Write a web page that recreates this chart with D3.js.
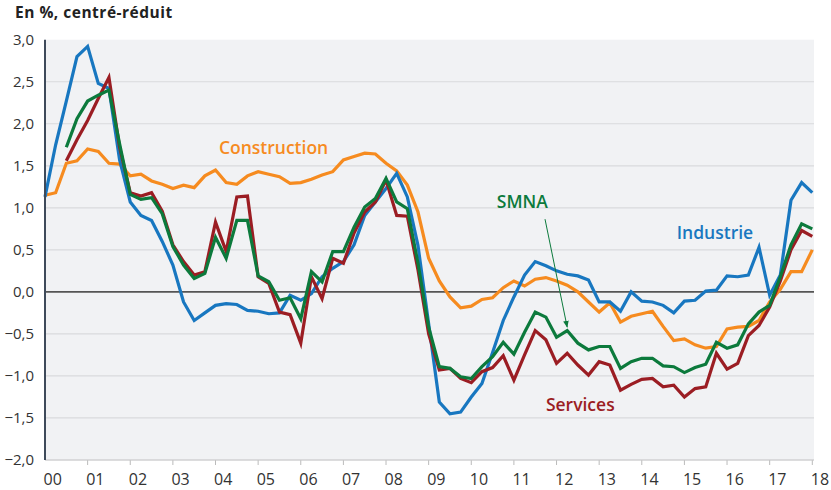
<!DOCTYPE html>
<html>
<head>
<meta charset="utf-8">
<script src="https://cdn.jsdelivr.net/npm/d3@7"></script>
<style>
body { margin:0; background:#fff; }
svg text { font-family: "Open Sans", "DejaVu Sans", sans-serif; }
</style>
</head>
<body>
<div id="chart"></div>
<script>
// size of SVG
var w = 831;
var h = 490;

// quarterly data, 2000Q1 .. 2018Q1 (null = no value)
var startYear = 2000;
var industrie = [1.13,1.75,2.27,2.80,2.92,2.48,2.42,1.57,1.07,0.91,0.85,0.60,0.32,-0.12,-0.34,-0.25,
  -0.16,-0.14,-0.15,-0.22,-0.23,-0.26,-0.25,-0.04,-0.10,-0.02,0.18,0.28,0.36,0.56,0.91,1.07,
  1.23,1.41,1.13,0.55,-0.38,-1.31,-1.45,-1.43,-1.25,-1.09,-0.72,-0.34,-0.06,0.20,0.36,0.31,
  0.25,0.21,0.19,0.14,-0.12,-0.12,-0.23,0.00,-0.11,-0.12,-0.16,-0.25,-0.11,-0.10,0.01,0.02,
  0.19,0.18,0.20,0.53,-0.04,0.20,1.09,1.30,1.18];
var construction = [1.15,1.18,1.53,1.56,1.70,1.67,1.53,1.52,1.38,1.40,1.32,1.28,1.23,1.27,1.24,1.38,
  1.45,1.30,1.28,1.38,1.43,1.40,1.37,1.29,1.30,1.34,1.39,1.43,1.57,1.61,1.65,1.64,
  1.53,1.44,1.27,0.95,0.40,0.13,-0.06,-0.19,-0.17,-0.09,-0.07,0.05,0.13,0.07,0.15,0.17,
  0.13,0.08,0.00,-0.12,-0.24,-0.13,-0.36,-0.29,-0.26,-0.23,-0.41,-0.58,-0.56,-0.63,-0.67,-0.65,
  -0.44,-0.42,-0.41,-0.34,-0.12,0.03,0.24,0.24,0.50];
var services = [null,null,1.56,1.81,2.04,2.30,2.55,1.72,1.18,1.14,1.18,0.96,0.56,0.36,0.20,0.24,
  0.83,0.48,1.13,1.14,0.18,0.10,-0.24,-0.27,-0.61,0.18,-0.08,0.40,0.34,0.70,0.95,1.07,
  1.33,0.91,0.90,0.26,-0.50,-0.93,-0.91,-1.03,-1.08,-0.95,-0.90,-0.76,-1.05,-0.75,-0.46,-0.57,
  -0.85,-0.73,-0.87,-0.99,-0.83,-0.87,-1.17,-1.10,-1.04,-1.03,-1.13,-1.11,-1.25,-1.15,-1.13,-0.73,
  -0.92,-0.85,-0.52,-0.40,-0.18,0.13,0.50,0.73,0.66];
var smna = [null,null,1.72,2.06,2.27,2.34,2.40,1.76,1.16,1.10,1.12,0.93,0.54,0.32,0.16,0.22,
  0.65,0.40,0.85,0.85,0.19,0.12,-0.10,-0.07,-0.32,0.24,0.12,0.48,0.48,0.77,1.01,1.11,
  1.35,1.07,0.99,0.34,-0.42,-0.89,-0.91,-1.01,-1.03,-0.89,-0.77,-0.60,-0.74,-0.48,-0.24,-0.30,
  -0.54,-0.46,-0.61,-0.69,-0.65,-0.65,-0.91,-0.83,-0.79,-0.79,-0.88,-0.89,-0.96,-0.90,-0.86,-0.60,
  -0.67,-0.63,-0.38,-0.24,-0.16,0.18,0.56,0.81,0.75];

var yTicks = [3, 2.5, 2, 1.5, 1, 0.5, 0, -0.5, -1, -1.5, -2];
var xTicks = d3.range(2000, 2019);
var xTickLabels = ["00","01","02","03","04","05","06","07","08","09","10","11","12","13","14","15","16","17","18"];

var seriesNames = ["Construction", "Industrie", "Services", "SMNA"];
var seriesColors = ["#f68b1f", "#1877c0", "#9b1d23", "#0c7a3c"];

// label anchors (year, value) for each series name
var labelYears = [2004.08, 2014.82, 2011.75, 2010.6];
var labelValues = [1.64, 0.63, -1.42, 1.0];

var svg = d3.select("#chart")
  .append("svg")
  .attr("width", w)
  .attr("height", h);

var x = d3.scaleLinear().domain([2000, 2018]).range([45, 812.3]);
var y = d3.scaleLinear().domain([-2, 3]).range([460, 39.7]);

// plot background
svg.append("rect")
  .attr("x", 45).attr("y", y(3))
  .attr("width", 814 - 45).attr("height", y(-2) - y(3))
  .attr("fill", "#f1f2f4");

// grid lines
svg.selectAll(".grid").data(yTicks.filter(function(d) { return d != 0 && d != 3; }))
  .enter().append("line")
  .attr("class", "grid")
  .attr("x1", 45).attr("x2", 814)
  .attr("y1", function(d) { return y(d); })
  .attr("y2", function(d) { return y(d); })
  .attr("stroke", "#d9dadd")
  .attr("stroke-width", 1.2);

// y labels
var fmt = function(d) { return d3.format(".1f")(d).replace(".", ","); };
svg.selectAll(".ylab").data(yTicks)
  .enter().append("text")
  .attr("class", "ylab")
  .attr("x", 34)
  .attr("y", function(d) { return y(d); })
  .attr("dy", "0.36em")
  .attr("text-anchor", "end")
  .attr("font-size", 15)
  .attr("fill", "#333")
  .text(fmt);

// x ticks and labels
svg.selectAll(".xtick").data(xTicks.slice(1))
  .enter().append("line")
  .attr("x1", function(d) { return x(d); })
  .attr("x2", function(d) { return x(d); })
  .attr("y1", 460).attr("y2", 465)
  .attr("stroke", "#bbb")
  .attr("stroke-width", 1);

svg.selectAll(".xlab").data(xTicks)
  .enter().append("text")
  .attr("class", "xlab")
  .attr("x", function(d) { return x(d) - 1.5; })
  .attr("y", 485)
  .attr("font-size", 16)
  .attr("fill", "#333")
  .text(function(d, i) { return xTickLabels[i]; });

// zero line
svg.append("line")
  .attr("x1", 45).attr("x2", 814)
  .attr("y1", y(0)).attr("y2", y(0))
  .attr("stroke", "#555")
  .attr("stroke-width", 1.8);

// series
var line = d3.line()
  .defined(function(d) { return d != null; })
  .x(function(d, i) { return x(startYear + i / 4); })
  .y(function(d) { return y(d); });

var allSeries = [construction, industrie, services, smna];
svg.selectAll(".serie").data(allSeries)
  .enter().append("path")
  .attr("class", "serie")
  .attr("d", line)
  .attr("fill", "none")
  .attr("stroke", function(d, i) { return seriesColors[i]; })
  .attr("stroke-width", 3.2)
  .attr("stroke-linejoin", "miter");

// bottom axis + left axis
svg.append("line")
  .attr("x1", 45).attr("x2", 814)
  .attr("y1", 460).attr("y2", 460)
  .attr("stroke", "#ccc").attr("stroke-width", 1);
svg.append("line")
  .attr("x1", 45).attr("x2", 45)
  .attr("y1", y(3)).attr("y2", 460)
  .attr("stroke", "#3e4a5a").attr("stroke-width", 2);

// series labels
svg.selectAll(".slab").data(seriesNames)
  .enter().append("text")
  .attr("class", "slab")
  .attr("x", function(d, i) { return x(labelYears[i]); })
  .attr("y", function(d, i) { return y(labelValues[i]); })
  .attr("font-size", 17.5)
  .attr("font-weight", 600)
  .attr("fill", function(d, i) { return seriesColors[i]; })
  .text(function(d) { return d; });

// arrow from SMNA label to its line
svg.append("defs").append("marker")
  .attr("id", "arrow")
  .attr("viewBox", "0 0 10 10")
  .attr("refX", 9).attr("refY", 5)
  .attr("markerWidth", 7).attr("markerHeight", 7)
  .attr("orient", "auto")
  .append("path")
  .attr("d", "M0,1 L10,5 L0,9 Z")
  .attr("fill", seriesColors[3]);
svg.append("line")
  .attr("x1", x(2011.73)).attr("y1", y(0.865))
  .attr("x2", x(2012.25)).attr("y2", y(-0.42))
  .attr("stroke", seriesColors[3])
  .attr("stroke-width", 1)
  .attr("marker-end", "url(#arrow)");

// title
svg.append("text")
  .attr("x", 15).attr("y", 18)
  .attr("font-size", 15.5)
  .attr("letter-spacing", 0.5)
  .attr("font-weight", 700)
  .attr("fill", "#222")
  .text("En %, centré-réduit");
</script>
</body>
</html>
